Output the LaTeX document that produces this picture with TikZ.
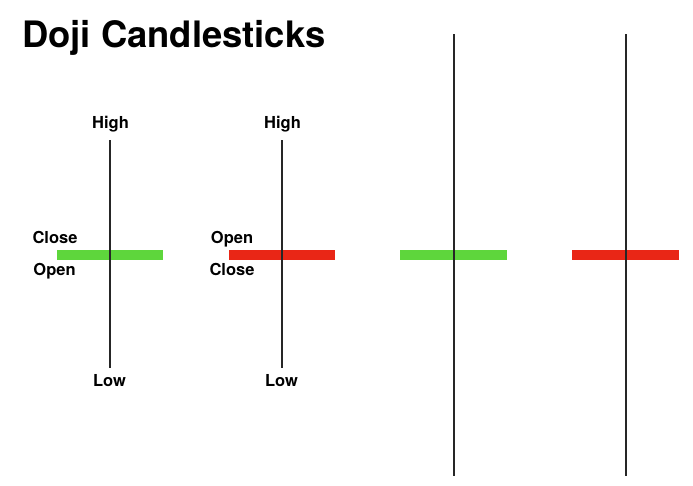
\documentclass[tikz,border=0pt]{standalone}
\usepackage{fontspec}
\setmainfont{TeX Gyre Heros}
\definecolor{dojigreen}{RGB}{94,214,60}
\definecolor{dojired}{RGB}{233,38,22}
\tikzset{
	wick/.style={line width=2pt, black!85},
	body/.style={line width=10pt},
	lbl/.style={font=\fontsize{16.5}{18}\selectfont\bfseries, inner sep=0pt, anchor=base},
}

\begin{document}
\begin{tikzpicture}[x=1pt, y=-1pt]
		\useasboundingbox (0,0) rectangle (693,485);
		\node[anchor=base west, inner sep=0pt, font=\fontsize{36.4}{40}\selectfont\bfseries] (title) at (22,47.5) {Doji Candlesticks};
		% ends of the wicks
		\coordinate (h1) at (110,140); \coordinate (l1) at (110,368);
		\coordinate (h2) at (282,140); \coordinate (l2) at (282,368);
		\coordinate (h3) at (454,34); \coordinate (l3) at (454,476);
		\coordinate (h4) at (626,34); \coordinate (l4) at (626,476);
		% bodies
		\coordinate (b1w) at (57,255); \coordinate (b1e) at (163,255);
		\coordinate (b2w) at (229,255); \coordinate (b2e) at (335,255);
		\coordinate (b3w) at (400,255); \coordinate (b3e) at (507,255);
		\coordinate (b4w) at (572,255); \coordinate (b4e) at (679,255);
		\draw[body, dojigreen] (b1w) -- (b1e);
		\draw[body, dojired] (b2w) -- (b2e);
		\draw[body, dojigreen] (b3w) -- (b3e);
		\draw[body, dojired] (b4w) -- (b4e);
		\draw[wick] (h1) -- (l1);
		\draw[wick] (h2) -- (l2);
		\draw[wick] (h3) -- (l3);
		\draw[wick] (h4) -- (l4);
		% labels
		\node[lbl] (high1) at (110.5,128) {High};
		\node[lbl] (low1) at (109.5,386.5) {Low};
		\node[lbl] (close1) at (55,243) {Close};
		\node[lbl] (open1) at (54.5,275.5) {Open};
		\node[lbl] (high2) at (282.5,128) {High};
		\node[lbl] (low2) at (281.5,386.5) {Low};
		\node[lbl] (open2) at (232,243) {Open};
		\node[lbl] (close2) at (232,275.5) {Close};
	\end{tikzpicture}
\end{document}
